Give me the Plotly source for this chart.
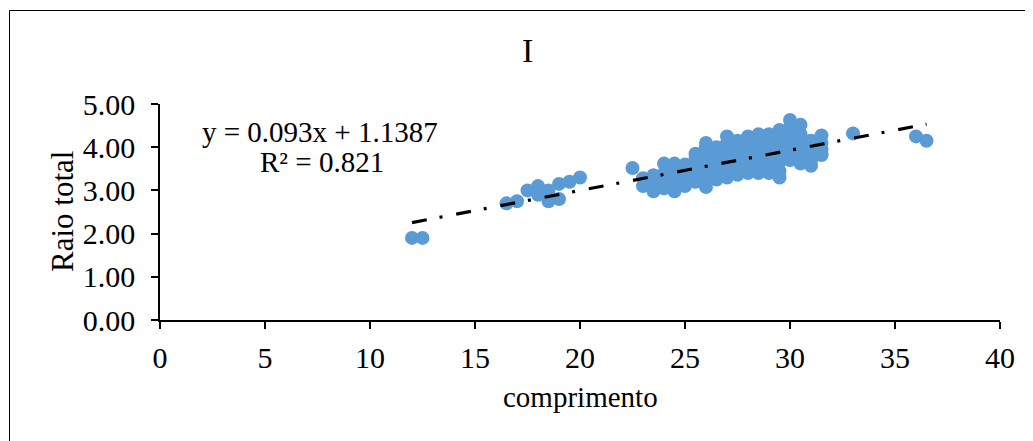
import plotly.graph_objects as go

# ---- data ----
comprimento = [
    12, 12.5, 16.5, 17, 17.5, 18, 18, 18.5, 18.5, 19, 19, 19.5, 20, 22.5,
    23, 23.5, 23.5, 24, 24, 24, 24.5, 24.5, 24.5, 25, 25, 25, 25,
    25.5, 25.5, 25.5, 26, 26, 26, 26, 26, 26.5, 26.5, 26.5, 26.5,
    27, 27, 27, 27, 27, 27.5, 27.5, 27.5, 27.5, 28, 28, 28, 28, 28,
    28.5, 28.5, 28.5, 28.5, 29, 29, 29, 29, 29.5, 29.5, 29.5, 29.5, 29.5,
    30, 30, 30, 30, 30.5, 30.5, 30.5, 30.5, 31, 31, 31, 31.5, 31.5, 31.5,
    23, 23.5, 24, 24.5, 24.5, 25, 25, 25.5, 25.5, 25.5, 26, 26, 26, 26,
    26.5, 26.5, 27, 27, 27.5, 27.5, 27.5, 28, 28, 28, 28.5, 28.5, 28.5, 28.5,
    29, 29, 29, 29, 29.5, 29.5, 29.5, 29.5, 30, 30, 30, 30, 30.5, 30.5, 30.5,
    31, 31, 31.5, 31.5,
    33, 36, 36.5,
]
raio_total = [
    1.90, 1.90, 2.70, 2.75, 3.00, 3.10, 2.90, 2.75, 3.00, 2.80, 3.15, 3.20, 3.30, 3.52,
    3.28, 2.98, 3.35, 3.62, 3.20, 3.40, 2.98, 3.62, 3.30, 3.10, 3.50, 3.30, 3.60,
    3.85, 3.20, 3.45, 3.08, 4.10, 3.30, 3.60, 3.90, 3.40, 3.70, 3.55, 3.85,
    4.25, 3.30, 3.60, 3.95, 4.10, 3.36, 3.75, 4.00, 3.55, 4.25, 3.50, 3.80, 4.05, 3.65,
    3.40, 4.30, 3.90, 3.70, 4.30, 3.50, 3.80, 4.05, 3.30, 4.40, 3.65, 3.95, 4.15,
    4.63, 3.80, 4.00, 4.30, 4.52, 3.62, 3.85, 4.10, 3.57, 3.90, 4.05, 4.27, 3.82, 3.95,
    3.10, 3.15, 3.05, 3.15, 3.45, 3.20, 3.40, 3.30, 3.60, 3.75, 3.20, 3.45, 3.75, 4.00,
    3.25, 4.00, 3.45, 3.75, 3.45, 3.90, 4.15, 3.40, 3.95, 4.15, 3.55, 3.80, 4.05, 4.20,
    3.40, 3.65, 3.95, 4.20, 3.45, 3.80, 4.05, 4.30, 3.70, 3.90, 4.15, 4.45, 3.70, 3.95, 4.30,
    3.70, 4.15, 4.10, 3.85,
    4.32, 4.25, 4.15,
]
slope = 0.093
intercept = 1.1387
r2_text = "R² = 0.821"
eq_text = "y = 0.093x + 1.1387"
title_text = "I"
x_title = "comprimento"
y_title = "Raio total"
x_ticks = [0, 5, 10, 15, 20, 25, 30, 35, 40]
y_ticks = [0, 1, 2, 3, 4, 5]

FONT = "Liberation Serif, Times New Roman, serif"

x_min, x_max = min(comprimento), max(comprimento)
trend_x = [x_min, x_max]
trend_y = [slope * v + intercept for v in trend_x]

fig = go.Figure()
fig.add_trace(go.Scatter(
    x=comprimento, y=raio_total, mode="markers",
    marker=dict(color="#5B9BD5", size=14, line=dict(width=0)),
    showlegend=False, hoverinfo="skip",
))
fig.add_trace(go.Scatter(
    x=trend_x, y=trend_y, mode="lines",
    line=dict(color="black", width=3.2, dash="15px,13px,3px,14px"),
    showlegend=False, hoverinfo="skip",
))

OFF = 8  # page body margin
W, H = 1033 - OFF, 441 - OFF
L, R, T, B = 160 - OFF, 33, 104 - OFF, 121
pw, ph = W - L - R, H - T - B


def px_x(px):  # page pixel -> paper
    return (px - OFF - L) / pw


def px_y(py):
    return (H - B - (py - OFF)) / ph


axis_common = dict(
    showline=True, linecolor="black", linewidth=1.5,
    ticks="outside", ticklen=7, tickwidth=1.5, tickcolor="black",
    showgrid=False, zeroline=False,
    tickfont=dict(family=FONT, size=30, color="black"),
)

fig.update_layout(
    width=W, height=H,
    margin=dict(l=L, r=R, t=T, b=B),
    paper_bgcolor="white", plot_bgcolor="white",
    xaxis=dict(range=[0, 40], tickvals=x_ticks, ticklabelstandoff=3, **axis_common),
    yaxis=dict(range=[0, 5], tickvals=y_ticks, tickformat=".2f", ticklabelstandoff=10, **axis_common),
    showlegend=False,
)

ann_font = dict(family=FONT, color="black")
fig.add_annotation(text=title_text, xref="paper", yref="paper",
                   x=px_x(527), y=px_y(51), showarrow=False,
                   xanchor="center", yanchor="middle", font=dict(size=34, **ann_font))
fig.add_annotation(text=x_title, xref="paper", yref="paper",
                   x=px_x(580), y=px_y(397), showarrow=False,
                   xanchor="center", yanchor="middle", font=dict(size=29, **ann_font))
fig.add_annotation(text=y_title, xref="paper", yref="paper",
                   x=px_x(62), y=px_y(212), showarrow=False, textangle=-90,
                   xanchor="center", yanchor="middle", font=dict(size=31, **ann_font))
fig.add_annotation(text=eq_text, xref="paper", yref="paper",
                   x=px_x(320), y=px_y(132), showarrow=False,
                   xanchor="center", yanchor="middle", font=dict(size=29, **ann_font))
fig.add_annotation(text=r2_text, xref="paper", yref="paper",
                   x=px_x(322), y=px_y(162), showarrow=False,
                   xanchor="center", yanchor="middle", font=dict(size=29, **ann_font))

# chart-area border (extends past the right/bottom edges like the reference)
fig.add_shape(type="rect", xref="paper", yref="paper",
              x0=px_x(9.5), y0=px_y(446), x1=px_x(1040), y1=px_y(10.5),
              line=dict(color="black", width=1), fillcolor="rgba(0,0,0,0)", layer="below")

fig.write_html("out.html")
